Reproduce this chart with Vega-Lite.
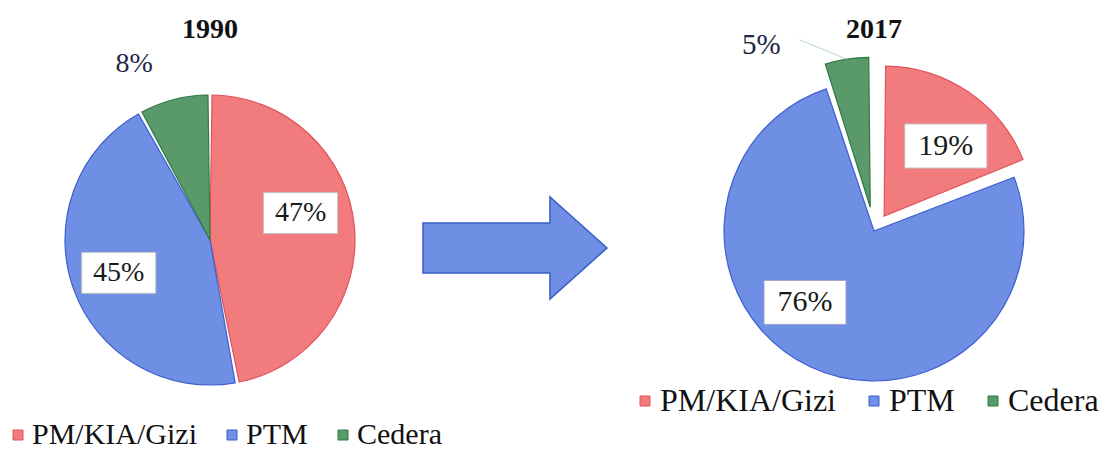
{
  "$schema": "https://vega.github.io/schema/vega-lite/v6.json",
  "background": "white",
  "padding": {"left": 0, "top": 16, "right": 0, "bottom": 0},
  "bounds": "flush",
  "spacing": 0,
  "config": {
    "view": {"stroke": null},
    "font": "Liberation Serif"
  },
  "datasets": {
    "shares": [
      {"year": "1990", "category": "PM/KIA/Gizi", "value": 47, "order": 1},
      {"year": "1990", "category": "PTM", "value": 45, "order": 2},
      {"year": "1990", "category": "Cedera", "value": 8, "order": 3},
      {"year": "2017", "category": "PM/KIA/Gizi", "value": 19, "order": 1},
      {"year": "2017", "category": "PTM", "value": 76, "order": 2},
      {"year": "2017", "category": "Cedera", "value": 5, "order": 3}
    ],
    "arrow": [{"from": "1990", "to": "2017"}]
  },
  "resolve": {
    "scale": {"fill": "independent", "stroke": "independent", "x": "independent", "y": "independent"},
    "legend": {"fill": "independent", "stroke": "independent"}
  },
  "hconcat": [
    {
      "width": 420,
      "height": 300,
      "data": {"name": "shares"},
      "transform": [
        {"filter": "datum.year == '1990'"},
        {"stack": "value", "groupby": ["year"], "sort": [{"field": "order", "order": "ascending"}], "as": ["v0", "v1"]},
        {"calculate": "PI * (datum.v0 + datum.v1) / 100", "as": "mid"},
        {"calculate": "datum.category == 'Cedera' ? 192 : datum.category == 'PTM' ? 97 : 95", "as": "reach"},
        {"calculate": "datum.reach * sin(datum.mid)", "as": "lx"},
        {"calculate": "datum.reach * cos(datum.mid)", "as": "ly"},
        {"calculate": "datum.value + '%'", "as": "pct"}
      ],
      "layer": [
        {
          "mark": {"type": "arc", "radius": 145, "padAngle": 0.028, "strokeWidth": 1.2},
          "encoding": {
            "theta": {"field": "v0", "type": "quantitative", "scale": {"domain": [0, 100]}},
            "theta2": {"field": "v1"},
            "fill": {
              "field": "category", "type": "nominal",
              "scale": {"domain": ["PM/KIA/Gizi", "PTM", "Cedera"], "range": ["#f27b7d", "#6e8fe3", "#5a9a6a"]},
              "legend": {
                "title": null, "orient": "none", "legendX": 3, "legendY": 330, "direction": "horizontal",
                "symbolType": "square", "symbolSize": 100, "symbolStrokeWidth": 1, "symbolOpacity": 1,
                "labelFont": "Liberation Serif", "labelFontSize": 30, "labelColor": "#111111",
                "labelOffset": -1, "columnPadding": 20, "labelLimit": 400, "padding": 0
              }
            },
            "stroke": {
              "field": "category", "type": "nominal",
              "scale": {"domain": ["PM/KIA/Gizi", "PTM", "Cedera"], "range": ["#e0525a", "#3d5fd0", "#2f7a45"]},
              "legend": null
            }
          }
        },
        {
          "transform": [{"filter": "datum.category == 'PTM'"}],
          "mark": {"type": "text", "font": "Liberation Serif", "fontSize": 28, "fontWeight": "bold", "color": "#111111", "baseline": "alphabetic"},
          "encoding": {
            "x": {"datum": 0, "type": "quantitative", "scale": {"domain": [-210, 210], "nice": false, "zero": false}, "axis": null},
            "y": {"datum": 202, "type": "quantitative", "scale": {"domain": [-150, 150], "nice": false, "zero": false}, "axis": null},
            "text": {"field": "year", "type": "nominal"}
          }
        },
        {
          "transform": [{"filter": "datum.category == 'PM/KIA/Gizi'"}],
          "mark": {"type": "point", "shape": "M-1,-0.554H1V0.554H-1Z", "size": 5476, "filled": true, "fill": "white", "stroke": "#c4c4c4", "strokeWidth": 1, "opacity": 1, "xOffset": -4, "yOffset": -18},
          "encoding": {
            "x": {"field": "lx", "type": "quantitative", "scale": {"domain": [-210, 210], "nice": false, "zero": false}, "axis": null},
            "y": {"field": "ly", "type": "quantitative", "scale": {"domain": [-150, 150], "nice": false, "zero": false}, "axis": null}
          }
        },
        {
          "transform": [{"filter": "datum.category == 'PM/KIA/Gizi'"}],
          "mark": {"type": "text", "font": "Liberation Serif", "fontSize": 28, "color": "#1a1a1a", "dx": -4, "dy": -18},
          "encoding": {
            "x": {"field": "lx", "type": "quantitative", "scale": {"domain": [-210, 210], "nice": false, "zero": false}, "axis": null},
            "y": {"field": "ly", "type": "quantitative", "scale": {"domain": [-150, 150], "nice": false, "zero": false}, "axis": null},
            "text": {"field": "pct", "type": "nominal"}
          }
        },
        {
          "transform": [{"filter": "datum.category == 'PTM'"}],
          "mark": {"type": "point", "shape": "M-1,-0.554H1V0.554H-1Z", "size": 5476, "filled": true, "fill": "white", "stroke": "#c4c4c4", "strokeWidth": 1, "opacity": 1},
          "encoding": {
            "x": {"field": "lx", "type": "quantitative", "scale": {"domain": [-210, 210], "nice": false, "zero": false}, "axis": null},
            "y": {"field": "ly", "type": "quantitative", "scale": {"domain": [-150, 150], "nice": false, "zero": false}, "axis": null}
          }
        },
        {
          "transform": [{"filter": "datum.category == 'PTM'"}],
          "mark": {"type": "text", "font": "Liberation Serif", "fontSize": 28, "color": "#1a1a1a"},
          "encoding": {
            "x": {"field": "lx", "type": "quantitative", "scale": {"domain": [-210, 210], "nice": false, "zero": false}, "axis": null},
            "y": {"field": "ly", "type": "quantitative", "scale": {"domain": [-150, 150], "nice": false, "zero": false}, "axis": null},
            "text": {"field": "pct", "type": "nominal"}
          }
        },
        {
          "transform": [{"filter": "datum.category == 'Cedera'"}],
          "mark": {"type": "text", "font": "Liberation Serif", "fontSize": 28, "color": "#1f2747", "dx": -28, "dy": 10},
          "encoding": {
            "x": {"field": "lx", "type": "quantitative", "scale": {"domain": [-210, 210], "nice": false, "zero": false}, "axis": null},
            "y": {"field": "ly", "type": "quantitative", "scale": {"domain": [-150, 150], "nice": false, "zero": false}, "axis": null},
            "text": {"field": "pct", "type": "nominal"}
          }
        }
      ]
    },
    {
      "width": 219,
      "height": 300,
      "data": {"name": "arrow"},
      "mark": {
        "type": "point",
        "shape": "M-1,-0.272L0.38,-0.272L0.38,-0.554L1,0L0.38,0.554L0.38,0.272L-1,0.272Z",
        "size": 33856, "filled": true, "fill": "#6f8fe4", "stroke": "#3a5cc8", "strokeWidth": 1.5, "opacity": 1,
        "xOffset": -14.5, "yOffset": 8
      },
      "encoding": {}
    },
    {
      "width": 470,
      "height": 300,
      "data": {"name": "shares"},
      "transform": [
        {"filter": "datum.year == '2017'"},
        {"stack": "value", "groupby": ["year"], "sort": [{"field": "order", "order": "ascending"}], "as": ["v0", "v1"]},
        {"calculate": "PI * (datum.v0 + datum.v1) / 100", "as": "mid"},
        {"calculate": "datum.category == 'PM/KIA/Gizi' ? 18 : datum.category == 'Cedera' ? 24 : 0", "as": "burst"},
        {"calculate": "datum.category == 'Cedera' ? 192 : datum.category == 'PTM' ? 101 : 92", "as": "reach"},
        {"calculate": "datum.burst * sin(datum.mid)", "as": "ex"},
        {"calculate": "datum.burst * cos(datum.mid)", "as": "ey"},
        {"calculate": "datum.ex + datum.reach * sin(datum.mid)", "as": "lx"},
        {"calculate": "datum.ey + datum.reach * cos(datum.mid)", "as": "ly"},
        {"calculate": "datum.ex + 150 * sin(datum.mid)", "as": "rimx"},
        {"calculate": "datum.ey + 150 * cos(datum.mid)", "as": "rimy"},
        {"calculate": "datum.value + '%'", "as": "pct"}
      ],
      "layer": [
        {
          "mark": {"type": "arc", "radius": 150, "padAngle": 0.02, "strokeWidth": 1.2},
          "encoding": {
            "x": {"field": "ex", "type": "quantitative", "scale": {"domain": [-235, 235], "nice": false, "zero": false}, "axis": null},
            "y": {"field": "ey", "type": "quantitative", "scale": {"domain": [-159, 141], "nice": false, "zero": false}, "axis": null},
            "theta": {"field": "v0", "type": "quantitative", "scale": {"domain": [0, 100]}},
            "theta2": {"field": "v1"},
            "fill": {
              "field": "category", "type": "nominal",
              "scale": {"domain": ["PM/KIA/Gizi", "PTM", "Cedera"], "range": ["#f27b7d", "#6e8fe3", "#5a9a6a"]},
              "legend": {
                "title": null, "orient": "none", "legendX": -10, "legendY": 295, "direction": "horizontal",
                "symbolType": "square", "symbolSize": 100, "symbolStrokeWidth": 1, "symbolOpacity": 1,
                "labelFont": "Liberation Serif", "labelFontSize": 32, "labelColor": "#111111",
                "labelOffset": -1, "columnPadding": 22, "labelLimit": 400, "padding": 0
              }
            },
            "stroke": {
              "field": "category", "type": "nominal",
              "scale": {"domain": ["PM/KIA/Gizi", "PTM", "Cedera"], "range": ["#e0525a", "#3d5fd0", "#2f7a45"]},
              "legend": null
            }
          }
        },
        {
          "transform": [{"filter": "datum.category == 'PTM'"}],
          "mark": {"type": "text", "font": "Liberation Serif", "fontSize": 28, "fontWeight": "bold", "color": "#111111", "baseline": "alphabetic"},
          "encoding": {
            "x": {"datum": 0, "type": "quantitative", "scale": {"domain": [-235, 235], "nice": false, "zero": false}, "axis": null},
            "y": {"datum": 193, "type": "quantitative", "scale": {"domain": [-159, 141], "nice": false, "zero": false}, "axis": null},
            "text": {"field": "year", "type": "nominal"}
          }
        },
        {
          "transform": [{"filter": "datum.category == 'Cedera'"}],
          "mark": {"type": "rule", "color": "#b9d6d2", "strokeWidth": 1, "xOffset": -41, "yOffset": 22},
          "encoding": {
            "x": {"field": "lx", "type": "quantitative", "scale": {"domain": [-235, 235], "nice": false, "zero": false}, "axis": null},
            "y": {"field": "ly", "type": "quantitative", "scale": {"domain": [-159, 141], "nice": false, "zero": false}, "axis": null},
            "x2": {"field": "rimx"},
            "y2": {"field": "rimy"}
          }
        },
        {
          "transform": [{"filter": "datum.category == 'PM/KIA/Gizi'"}],
          "mark": {"type": "point", "shape": "M-1,-0.537H1V0.537H-1Z", "size": 6724, "filled": true, "fill": "white", "stroke": "#c4c4c4", "strokeWidth": 1, "opacity": 1, "xOffset": 10, "yOffset": 6},
          "encoding": {
            "x": {"field": "lx", "type": "quantitative", "scale": {"domain": [-235, 235], "nice": false, "zero": false}, "axis": null},
            "y": {"field": "ly", "type": "quantitative", "scale": {"domain": [-159, 141], "nice": false, "zero": false}, "axis": null}
          }
        },
        {
          "transform": [{"filter": "datum.category == 'PM/KIA/Gizi'"}],
          "mark": {"type": "text", "font": "Liberation Serif", "fontSize": 30, "color": "#1a1a1a", "dx": 10, "dy": 6},
          "encoding": {
            "x": {"field": "lx", "type": "quantitative", "scale": {"domain": [-235, 235], "nice": false, "zero": false}, "axis": null},
            "y": {"field": "ly", "type": "quantitative", "scale": {"domain": [-159, 141], "nice": false, "zero": false}, "axis": null},
            "text": {"field": "pct", "type": "nominal"}
          }
        },
        {
          "transform": [{"filter": "datum.category == 'PTM'"}],
          "mark": {"type": "point", "shape": "M-1,-0.537H1V0.537H-1Z", "size": 6724, "filled": true, "fill": "white", "stroke": "#9aa3c0", "strokeWidth": 1, "opacity": 1, "xOffset": -26, "yOffset": -20},
          "encoding": {
            "x": {"field": "lx", "type": "quantitative", "scale": {"domain": [-235, 235], "nice": false, "zero": false}, "axis": null},
            "y": {"field": "ly", "type": "quantitative", "scale": {"domain": [-159, 141], "nice": false, "zero": false}, "axis": null}
          }
        },
        {
          "transform": [{"filter": "datum.category == 'PTM'"}],
          "mark": {"type": "text", "font": "Liberation Serif", "fontSize": 30, "color": "#1a1a1a", "dx": -26, "dy": -20},
          "encoding": {
            "x": {"field": "lx", "type": "quantitative", "scale": {"domain": [-235, 235], "nice": false, "zero": false}, "axis": null},
            "y": {"field": "ly", "type": "quantitative", "scale": {"domain": [-159, 141], "nice": false, "zero": false}, "axis": null},
            "text": {"field": "pct", "type": "nominal"}
          }
        },
        {
          "transform": [{"filter": "datum.category == 'Cedera'"}],
          "mark": {"type": "text", "font": "Liberation Serif", "fontSize": 29, "color": "#1f2747", "dx": -79, "dy": 27},
          "encoding": {
            "x": {"field": "lx", "type": "quantitative", "scale": {"domain": [-235, 235], "nice": false, "zero": false}, "axis": null},
            "y": {"field": "ly", "type": "quantitative", "scale": {"domain": [-159, 141], "nice": false, "zero": false}, "axis": null},
            "text": {"field": "pct", "type": "nominal"}
          }
        }
      ]
    }
  ]
}
